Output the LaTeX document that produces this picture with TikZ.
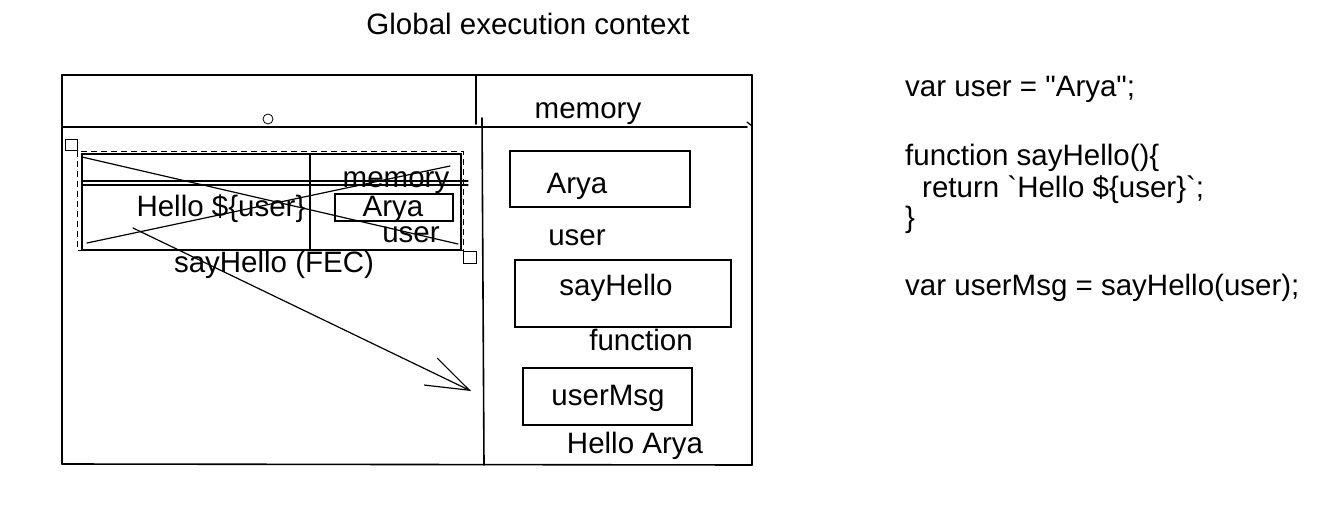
\documentclass[tikz,border=0pt]{standalone}
\usepackage{fontspec}
\setmainfont{Liberation Sans}[Ligatures=TeXOff]
\usetikzlibrary{arrows.meta}
\begin{document}
\begin{tikzpicture}[x=1pt,y=-1pt,
  txt/.style={inner sep=0pt,anchor=base,font=\fontsize{29.5}{32}\selectfont},
  code/.style={inner sep=0pt,anchor=base west,font=\fontsize{29.5}{32}\selectfont},
  edge/.style={line width=1.6pt,line cap=round},
  thin/.style={line width=1.2pt,line cap=round},
  sel/.style={line width=0.9pt,dashed,dash pattern=on 6pt off 4pt},
  handle/.style={line width=0.8pt}]
\useasboundingbox (0,0) rectangle (1330,513);
\fill[white] (0,0) rectangle (1330,513);

% title
\node[txt] (title) at (528,35) {Global execution context};

% outer frame
\draw[edge] (62,75) -- (752,75);
\draw[edge] (62,75) -- (62,464);
\draw[edge] (62,464) -- (752,465);
\draw[edge] (752,75) -- (752,465);
\draw[edge] (62,127) -- (747,127);
\draw[edge] (476,75) -- (476,124);
\draw[edge] (482,118) -- (484,465);
\draw[thin] (747,122) -- (752,126);

% selection circle
\draw[handle] (268,119) circle (5);

% right panel texts and boxes
\node[txt] (mem) at (588,119) {memory};
\draw[edge] (510,151) rectangle (690,207);
\node[txt] (arya) at (577,194) {Arya};
\node[txt] (user) at (577,245) {user};
\draw[edge] (515,260) rectangle (731,327);
\node[txt] (sh) at (616,295) {sayHello};
\node[txt] (fn) at (641,350) {function};
\draw[edge] (523,368) rectangle (692,425);
\node[txt] (um) at (608,405) {userMsg};
\node[txt] (ha) at (635,453) {Hello Arya};

% FEC (crossed out)
\draw[handle] (65,139) rectangle (77,150);
\draw[handle] (463,251) rectangle (476,263);
\draw[sel] (77,151) rectangle (463,250);
\draw[edge] (82,154) rectangle (461,250);
\draw[thin] (82,181) -- (468,181);
\draw[thin] (82,185) -- (468,185);
\draw[edge] (310,154) -- (310,250);
\draw[edge] (335,194) rectangle (453,221);
\node[txt] (imem) at (396,188) {memory};
\node[txt] (hu) at (221,217) {Hello \$\{user\}};
\node[txt] (iarya) at (393,217) {Arya};
\node[txt] (iuser) at (411,242) {user};
\node[txt] (fec) at (274,272) {sayHello (FEC)};
\draw[thin] (82,157) -- (458,244);
\draw[thin] (87,243) -- (450,166);

% arrow
\coordinate (a1) at (133,228);
\coordinate (a2) at (471,391);
\draw[thin,-{Straight Barb[length=43pt,width=30pt,line width=1.2pt]}] (a1) -- (a2);

% code
\node[code] (c1) at (905,97) {var user = \symbol{34}Arya\symbol{34};};
\node[code] (c2) at (905,166) {function sayHello()\{};
\node[code] (c3) at (922,197) {return \symbol{96}Hello \$\{user\}\symbol{96};};
\node[code] (c4) at (905,228) {\}};
\node[code] (c5) at (905,295) {var userMsg = sayHello(user);};
\end{tikzpicture}
\end{document}
